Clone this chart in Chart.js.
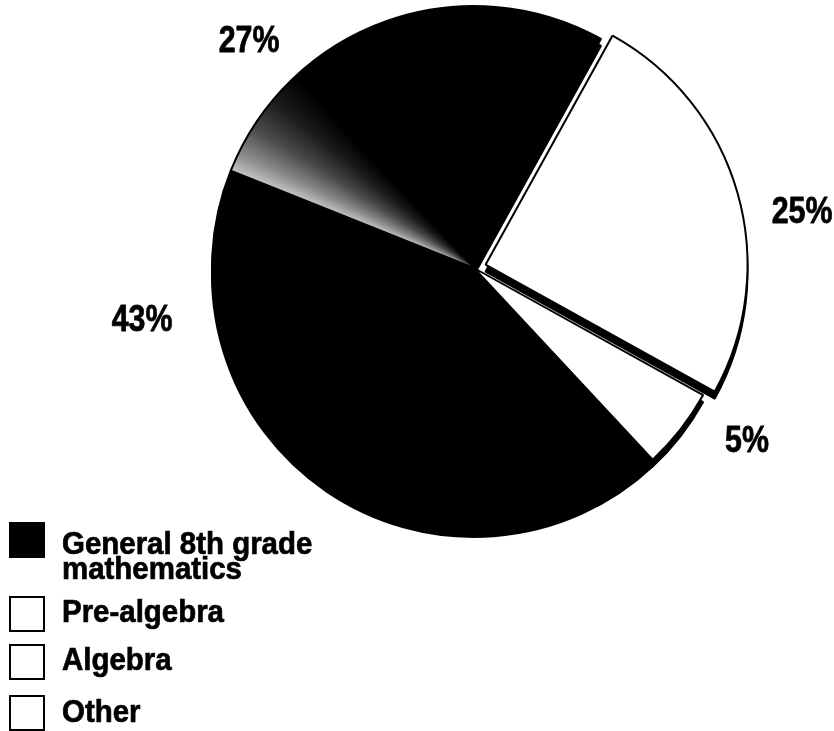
<!DOCTYPE html>
<html>
<head>
<meta charset="utf-8">
<script src="https://cdn.jsdelivr.net/npm/chart.js@4.4.1/dist/chart.umd.min.js"></script>
<style>
  html, body { margin: 0; padding: 0; background: #fff; }
  #stage {
    position: relative; width: 834px; height: 731px; overflow: hidden;
    font-family: "Liberation Sans", Arial, sans-serif;
    font-weight: bold; color: #000;
  }
  #chart-box { position: absolute; left: 0; top: 0; width: 834px; height: 731px; }
  #chart { filter: drop-shadow(0px 7px 0 #000); }
  .pct {
    position: absolute; font-size: 37px; line-height: 37px; white-space: nowrap;
    -webkit-text-stroke: 0.8px #000;
    transform: translate(-50%, -50%) scaleX(0.82);
  }
  .key-box { position: absolute; left: 9px; width: 32px; height: 32px; border: 2px solid #000; }
  .key-text {
    position: absolute; left: 62px; font-size: 32px; line-height: 25px; white-space: pre;
    -webkit-text-stroke: 0.7px #000;
    transform: scaleX(0.92); transform-origin: left top;
  }
</style>
</head>
<body>
<div id="stage">
  <div id="chart-box"><canvas id="chart"></canvas></div>
</div>
<script>
  // data
  const categories = ["General 8th grade\nmathematics", "Pre-algebra", "Algebra", "Other"];
  const shares = [43, 27, 25, 5];
  const shareLabels = ["43%", "27%", "25%", "5%"];

  // look
  const rotationDeg = 137;
  const pieRadius = 262;
  // chart.js v4 moves an arc by offset / 4 pixels
  const sliceOffsets = [0, 0, 48, 0];
  const keyFills = ["#000", "#fff", "#fff", "#fff"];
  const keyBoxTops = [522, 596, 644, 695];
  const keyTextTops = [531, 599, 647, 699];
  // label placement: degrees away from slice middle, distance as share of radius
  const labelShift = [47, -25, 6, -6];
  const labelDist = [1.28, 1.225, 1.27, 1.23];

  const stage = document.getElementById("stage");
  const total = shares.reduce((a, b) => a + b, 0);

  // legend
  categories.forEach((name, i) => {
    const box = document.createElement("div");
    box.className = "key-box";
    box.style.top = keyBoxTops[i] + "px";
    box.style.background = keyFills[i];
    stage.appendChild(box);
    const txt = document.createElement("div");
    txt.className = "key-text";
    txt.style.top = keyTextTops[i] + "px";
    txt.textContent = name;
    stage.appendChild(txt);
  });

  // percent labels, placed after the chart lays out
  const labelEls = shareLabels.map((t) => {
    const el = document.createElement("div");
    el.className = "pct";
    el.textContent = t;
    stage.appendChild(el);
    return el;
  });

  function sliceFill(ctx) {
    const i = ctx.dataIndex;
    if (i === 0) return "#000";
    if (i !== 1) return "#fff";
    const chart = ctx.chart;
    const area = chart.chartArea;
    if (!area) return "#000";
    const cx = (area.left + area.right) / 2;
    const cy = (area.top + area.bottom) / 2;
    const before = shares.slice(0, i).reduce((a, b) => a + b, 0);
    const startDeg = rotationDeg + before / total * 360;
    const g = chart.ctx.createConicGradient((startDeg - 90) * Math.PI / 180, cx, cy);
    g.addColorStop(0, "#c4c4c4");
    g.addColorStop(0.012, "#8a8a8a");
    g.addColorStop(0.03, "#4a4a4a");
    g.addColorStop(0.05, "#1c1c1c");
    g.addColorStop(0.07, "#000");
    g.addColorStop(1, "#000");
    return g;
  }

  const labelPlugin = {
    id: "pctLabels",
    afterDraw(chart) {
      const arcs = chart.getDatasetMeta(0).data;
      arcs.forEach((arc, i) => {
        const p = arc.getProps(["x", "y", "startAngle", "endAngle", "outerRadius"], true);
        const mid = (p.startAngle + p.endAngle) / 2 + labelShift[i] * Math.PI / 180;
        const d = p.outerRadius * labelDist[i];
        labelEls[i].style.left = (p.x + Math.cos(mid) * d) + "px";
        labelEls[i].style.top = (p.y + Math.sin(mid) * d) + "px";
      });
    }
  };

  new Chart(document.getElementById("chart"), {
    type: "pie",
    data: {
      labels: categories,
      datasets: [{
        data: shares,
        backgroundColor: sliceFill,
        borderColor: "#000",
        borderWidth: 2,
        offset: sliceOffsets,
        radius: pieRadius
      }]
    },
    options: {
      responsive: true,
      maintainAspectRatio: false,
      animation: false,
      rotation: rotationDeg,
      layout: { padding: { left: 114, right: 0, top: 0, bottom: 195 } },
      plugins: {
        legend: { display: false },
        tooltip: { enabled: false }
      }
    },
    plugins: [labelPlugin]
  });
</script>
</body>
</html>
